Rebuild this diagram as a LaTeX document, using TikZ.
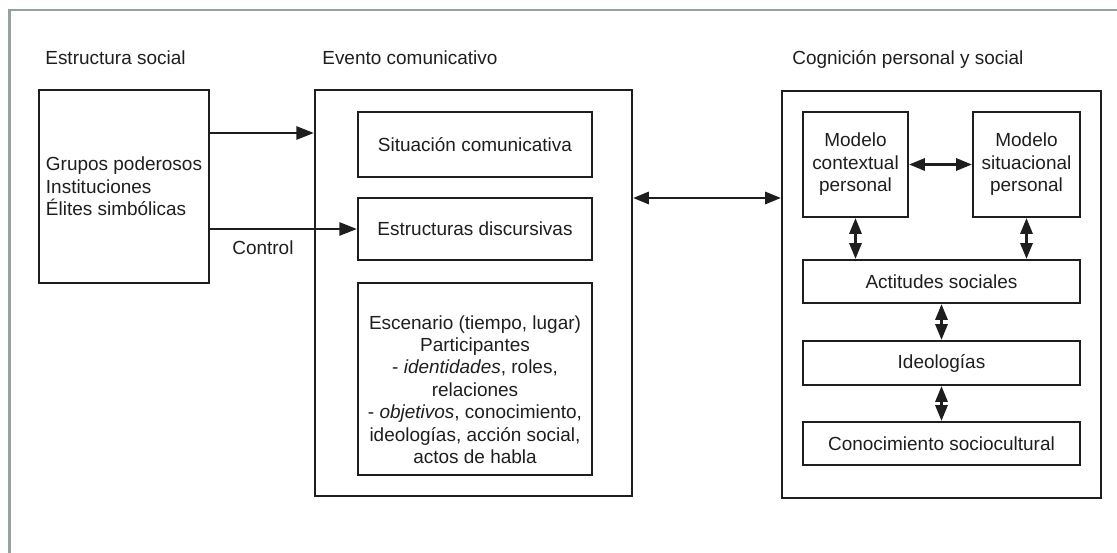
\documentclass[tikz,border=0pt]{standalone}
\usepackage{fontspec}
\setmainfont{Liberation Sans}
\usepackage{tikz}
\usetikzlibrary{positioning,arrows.meta}
\definecolor{ink}{HTML}{1E1E1E}
\definecolor{frame}{HTML}{95A39D}

\tikzset{
  box/.style={draw=ink,line width=1.3pt,inner sep=0pt,align=center},
  arr/.style={ink,line width=1.3pt,-{Triangle[length=10pt,width=7.5pt]}},
  darr/.style={ink,line width=1.3pt,{Triangle[length=9pt,width=7pt]}-{Triangle[length=9pt,width=7pt]}},
  lbl/.style={anchor=base west,inner sep=0pt}
}

\begin{document}
\begin{tikzpicture}[x=0.02cm,y=-0.02cm,text=ink,font=\fontsize{10.8}{12.8}\selectfont]
\useasboundingbox (0,0) rectangle (1117,553);
\draw[frame,line width=1.6pt] (9.5,553) -- (9.5,10) -- (1117,10);

% column titles
\node[lbl] (tsoc) at (45,65) {Estructura social};
\node[lbl] (tev) at (322,65) {Evento comunicativo};
\node[lbl] (tcog) at (792,65) {Cognición personal y social};

% estructura social
\node[box,minimum width=3.4cm,minimum height=3.86cm,align=left] (soc) at (124,186.5)
  {Grupos poderosos\\Instituciones\\Élites simbólicas};

% evento comunicativo
\node[box,minimum width=6.34cm,minimum height=8.12cm] (ev) at (473.5,293) {};
\node[box,minimum width=4.68cm,minimum height=1.3cm] (sit) at (475,144.5) {Situación comunicativa};
\node[box,minimum width=4.68cm,minimum height=1.24cm] (est) at (475,229) {Estructuras discursivas};
\node[box,minimum width=4.68cm,minimum height=3.84cm] (esc) at (475,379)
  {\rule{0pt}{20pt}Escenario (tiempo, lugar)\\Participantes\\- \textit{identidades}, roles,\\relaciones\\
   - \textit{objetivos}, conocimiento,\\ideologías, acción social,\\actos de habla};

% cognicion
\node[box,minimum width=6.38cm,minimum height=8.14cm] (cog) at (941.5,294.5) {};
\node[box,minimum width=2.1cm,minimum height=2.1cm] (mc) at (855.5,164.5) {Modelo\\contextual\\personal};
\node[box,minimum width=2.14cm,minimum height=2.1cm] (ms) at (1026.5,164.5) {Modelo\\situacional\\personal};
\node[box,minimum width=5.54cm,minimum height=0.86cm] (act) at (941.5,281.5) {Actitudes sociales};
\node[box,minimum width=5.54cm,minimum height=0.88cm] (ideo) at (941.5,363) {Ideologías};
\node[box,minimum width=5.54cm,minimum height=0.86cm] (con) at (941.5,443.5) {Conocimiento sociocultural};

% control
\draw[arr] (soc.east |- 0,133) -- (ev.west |- 0,133);
\draw[arr] (soc.east |- est.west) -- (est.west);
\node[lbl] (ctrl) at (232,255) {Control};

\draw[darr] (ev.east |- 0,198) -- (cog.west |- 0,198);
\draw[darr] (mc.east) -- (ms.west);
\draw[darr] (mc.south) -- (mc.south |- act.north);
\draw[darr] (ms.south) -- (ms.south |- act.north);
\draw[darr] (act.south) -- (ideo.north);
\draw[darr] (ideo.south) -- (con.north);
\end{tikzpicture}
\end{document}
